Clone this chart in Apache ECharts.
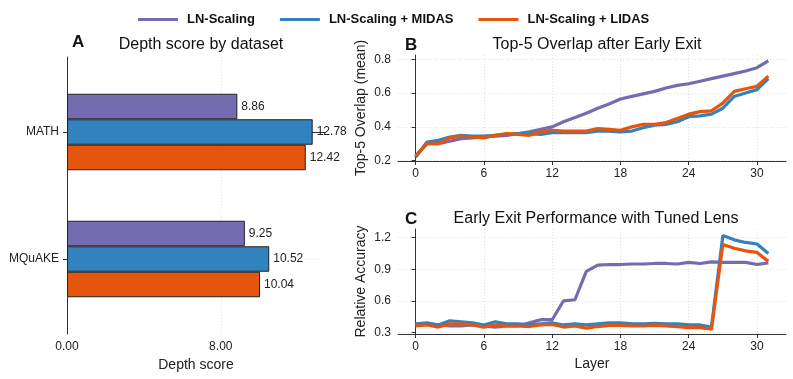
<!DOCTYPE html>
<html>
<head>
<meta charset="utf-8">
<script src="https://cdn.jsdelivr.net/npm/echarts@6/dist/echarts.min.js"></script>
<style>
  html, body { margin: 0; padding: 0; background: #fff; }
  #chart { width: 793px; height: 379px; }
</style>
</head>
<body>
<div id="chart"></div>
<script>
  // legend / series names
  const seriesNames = ['LN-Scaling', 'LN-Scaling + MIDAS', 'LN-Scaling + LIDAS']
  const colors = ['#756bb1', '#3182bd', '#e6550d']

  // panel A: depth score by dataset
  const datasets = ['MATH', 'MQuAKE']
  const depthLN = [8.86, 9.25]
  const depthMIDAS = [12.78, 10.52]
  const depthLIDAS = [12.42, 10.04]
  const depthTicks = [0, 8]

  // panels B and C: per layer
  const layers = [0, 1, 2, 3, 4, 5, 6, 7, 8, 9, 10, 11, 12, 13, 14, 15,
    16, 17, 18, 19, 20, 21, 22, 23, 24, 25, 26, 27, 28, 29, 30, 31]
  const layerTicks = [0, 6, 12, 18, 24, 30]

  const overlapLN = [0.225, 0.30, 0.30, 0.315, 0.33, 0.335, 0.34, 0.345, 0.35, 0.36, 0.37, 0.385,
    0.40, 0.43, 0.455, 0.48, 0.51, 0.535, 0.565, 0.58, 0.595, 0.61, 0.63, 0.645,
    0.655, 0.67, 0.685, 0.70, 0.715, 0.73, 0.75, 0.79]
  const overlapMIDAS = [0.22, 0.31, 0.32, 0.34, 0.35, 0.345, 0.345, 0.35, 0.355, 0.36, 0.36, 0.355,
    0.365, 0.365, 0.365, 0.365, 0.375, 0.375, 0.37, 0.375, 0.395, 0.41, 0.415, 0.43,
    0.46, 0.465, 0.475, 0.51, 0.58, 0.60, 0.62, 0.685]
  const overlapLIDAS = [0.23, 0.30, 0.30, 0.335, 0.345, 0.34, 0.335, 0.35, 0.36, 0.355, 0.35, 0.37,
    0.38, 0.375, 0.375, 0.375, 0.39, 0.385, 0.38, 0.40, 0.415, 0.415, 0.425, 0.45,
    0.475, 0.49, 0.495, 0.54, 0.61, 0.625, 0.64, 0.70]
  const overlapTicks = [0.2, 0.4, 0.6, 0.8]

  const accLN = [0.37, 0.38, 0.37, 0.36, 0.36, 0.37, 0.36, 0.35, 0.36, 0.36, 0.39, 0.42,
    0.42, 0.60, 0.61, 0.88, 0.94, 0.945, 0.945, 0.95, 0.95, 0.955, 0.955, 0.95,
    0.965, 0.955, 0.97, 0.965, 0.965, 0.965, 0.945, 0.96]
  const accMIDAS = [0.38, 0.39, 0.37, 0.41, 0.40, 0.39, 0.37, 0.40, 0.38, 0.38, 0.37, 0.38,
    0.39, 0.37, 0.38, 0.37, 0.38, 0.39, 0.39, 0.38, 0.38, 0.385, 0.38, 0.38,
    0.37, 0.37, 0.35, 1.22, 1.18, 1.155, 1.14, 1.05]
  const accLIDAS = [0.36, 0.37, 0.35, 0.38, 0.38, 0.37, 0.35, 0.37, 0.36, 0.36, 0.355, 0.37,
    0.375, 0.35, 0.36, 0.34, 0.355, 0.365, 0.365, 0.36, 0.36, 0.365, 0.36, 0.355,
    0.345, 0.345, 0.33, 1.135, 1.10, 1.075, 1.06, 0.975]
  const accTicks = [0.3, 0.6, 0.9, 1.2]

  const font = "'Liberation Sans', Arial, sans-serif"
  const ink = '#222'
  const gridLine = { show: true, lineStyle: { color: '#d8d8d8', type: [1, 2], width: 0.8 } }
  const axisLine = { show: true, lineStyle: { color: '#333', width: 1 } }

  function valueAxis (gridIndex, min, max, ticks, fmt, extra) {
    return Object.assign({
      type: 'value',
      gridIndex: gridIndex,
      min: min,
      max: max,
      axisLine: axisLine,
      axisTick: { show: true, length: 4, lineStyle: { color: '#333' }, customValues: ticks },
      axisLabel: { color: ink, fontSize: 12, fontFamily: font, margin: 7, customValues: ticks, formatter: fmt },
      splitLine: gridLine,
      nameTextStyle: { color: ink, fontSize: 14, fontFamily: font },
      nameLocation: 'middle'
    }, extra || {})
  }

  const pair = (arr) => layers.map((l, i) => [l, arr[i]])
  const lineSeries = (name, color, arr, idx, z) => ({
    name: name,
    type: 'line',
    xAxisIndex: idx,
    yAxisIndex: idx,
    data: pair(arr),
    showSymbol: false,
    symbol: 'none',
    lineStyle: { color: color, width: 3.2 },
    itemStyle: { color: color },
    z: z,
    animation: false
  })
  const barSeries = (name, color, arr) => ({
    name: name,
    type: 'bar',
    xAxisIndex: 0,
    yAxisIndex: 0,
    data: arr,
    barWidth: 25.5,
    barGap: '0%',
    itemStyle: { color: color, borderColor: '#222', borderWidth: 1 },
    label: {
      show: true,
      position: 'right',
      distance: 4,
      color: ink,
      fontSize: 12,
      fontFamily: font,
      formatter: (p) => p.value.toFixed(2)
    },
    animation: false
  })

  const chart = echarts.init(document.getElementById('chart'), null, { renderer: 'canvas' })
  chart.setOption({
    backgroundColor: '#fff',
    textStyle: { fontFamily: font },
    legend: {
      data: seriesNames,
      left: 133,
      top: 8,
      itemWidth: 40,
      itemHeight: 3,
      itemGap: 25,
      icon: 'rect',
      itemStyle: { borderWidth: 0 },
      textStyle: { color: '#111', fontSize: 13, fontWeight: 'bold', fontFamily: font, padding: [0, 0, 0, 4] }
    },
    title: [
      { text: 'A', left: 67, top: 29, textStyle: { fontSize: 17, fontWeight: 'bold', color: '#111', fontFamily: font } },
      { text: 'Depth score by dataset', left: 196, top: 32, textAlign: 'center', textStyle: { fontSize: 16, fontWeight: 'normal', color: '#111', fontFamily: font } },
      { text: 'B', left: 400, top: 32, textStyle: { fontSize: 17, fontWeight: 'bold', color: '#111', fontFamily: font } },
      { text: 'Top-5 Overlap after Early Exit', left: 592, top: 32, textAlign: 'center', textStyle: { fontSize: 16, fontWeight: 'normal', color: '#111', fontFamily: font } },
      { text: 'C', left: 400, top: 206, textStyle: { fontSize: 17, fontWeight: 'bold', color: '#111', fontFamily: font } },
      { text: 'Early Exit Performance with Tuned Lens', left: 591, top: 206, textAlign: 'center', textStyle: { fontSize: 16, fontWeight: 'normal', color: '#111', fontFamily: font } }
    ],
    grid: [
      // bars of panel A (band area only)
      { left: 67, top: 68.5, width: 258, height: 254 },
      { left: 398, top: 55, width: 388, height: 106 },
      { left: 398, top: 229, width: 388, height: 105 },
      // frame of panel A (spines, x ticks, grid lines)
      { left: 67, top: 57, width: 258, height: 277 }
    ],
    xAxis: [
      { type: 'value', gridIndex: 0, min: 0, max: 13.42, show: false },
      valueAxis(1, -1.55, 32.55, layerTicks, (v) => String(v)),
      valueAxis(2, -1.55, 32.55, layerTicks, (v) => String(v), { name: 'Layer', nameGap: 23 }),
      valueAxis(3, 0, 13.42, depthTicks, (v) => v.toFixed(2), { name: 'Depth score', nameGap: 23 })
    ],
    yAxis: [
      {
        type: 'category',
        gridIndex: 0,
        data: datasets,
        inverse: true,
        axisLine: { show: false },
        axisTick: { show: true, length: 4, alignWithLabel: true, lineStyle: { color: '#333' } },
        axisLabel: { color: ink, fontSize: 12, fontFamily: font, margin: 8 },
        splitLine: { show: false }
      },
      valueAxis(1, 0.198, 0.825, overlapTicks, (v) => v.toFixed(1), { name: 'Top-5 Overlap (mean)', nameGap: 30 }),
      valueAxis(2, 0.284, 1.283, accTicks, (v) => v.toFixed(1), { name: 'Relative Accuracy', nameGap: 30 }),
      {
        type: 'value',
        gridIndex: 3,
        inverse: true,
        min: -0.593,
        max: 1.59,
        axisLine: axisLine,
        axisTick: { show: false, customValues: [0, 1] },
        axisLabel: { show: false, customValues: [0, 1] },
        splitLine: { show: true, lineStyle: { color: '#e4e4e4', type: [1, 2], width: 0.8 } }
      }
    ],
    series: [
      barSeries(seriesNames[0], colors[0], depthLN),
      barSeries(seriesNames[1], colors[1], depthMIDAS),
      barSeries(seriesNames[2], colors[2], depthLIDAS),
      lineSeries(seriesNames[0], colors[0], overlapLN, 1, 2),
      lineSeries(seriesNames[1], colors[1], overlapMIDAS, 1, 3),
      lineSeries(seriesNames[2], colors[2], overlapLIDAS, 1, 4),
      lineSeries(seriesNames[0], colors[0], accLN, 2, 2),
      lineSeries(seriesNames[1], colors[1], accMIDAS, 2, 3),
      lineSeries(seriesNames[2], colors[2], accLIDAS, 2, 4)
    ]
  })
</script>
</body>
</html>
